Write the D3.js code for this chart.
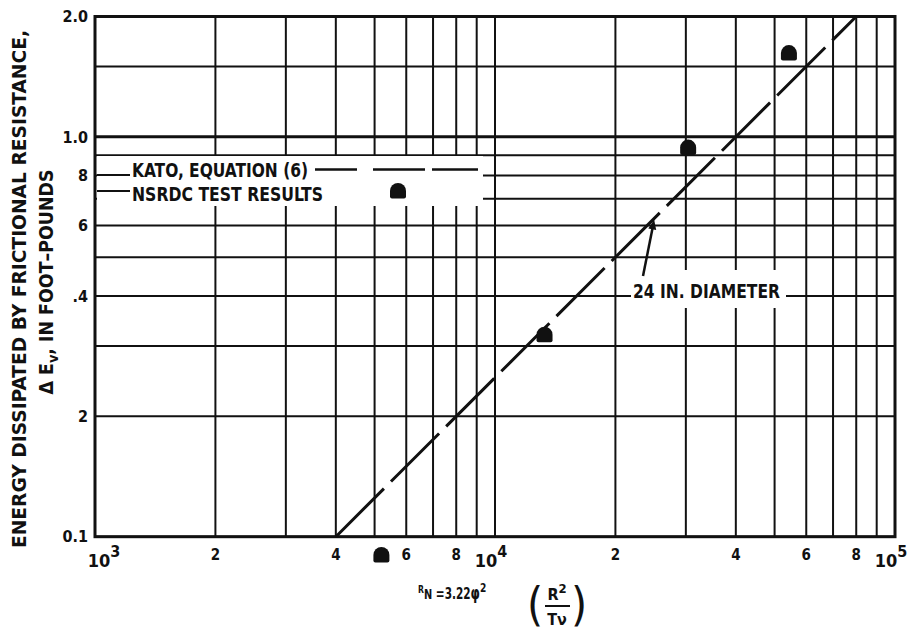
<!DOCTYPE html>
<html><head><meta charset="utf-8">
<script src="https://cdn.jsdelivr.net/npm/d3@7"></script>
<style>
body{margin:0;background:#fff;}
svg text{font-family:"Liberation Sans Narrow","DejaVu Sans Condensed","Arial Narrow","Liberation Sans",sans-serif;font-weight:bold;fill:#111;}
</style></head><body>
<svg id="c" width="912" height="631"></svg>
<script>
// ---- data ----
const xDomain = [1e3, 1e5];
const yDomain = [0.1, 2.0];
const xGridValues = [1000,2000,3000,4000,5000,6000,7000,8000,9000,10000,20000,30000,40000,50000,60000,70000,80000,90000,100000];
const yGridValues = [0.1,0.2,0.3,0.4,0.5,0.6,0.7,0.8,0.9,1.0,1.5,2.0];
const xTickValues = [1e3,2e3,4e3,6e3,8e3,1e4,2e4,4e4,6e4,8e4,1e5];
const xTickLabels = ["10^3","2","4","6","8","10^4","2","4","6","8","10^5"];
const yTickValues = [0.1,0.2,0.4,0.6,0.8,1.0,2.0];
const yTickLabels = ["0.1","2",".4","6","8","1.0","2.0"];
const katoRN = [4000, 80000];
const katoE  = [0.1, 2.0];
const testRN = [5200, 13300, 30400, 54300];
const testE  = [0.09, 0.32, 0.94, 1.62];
const annotRN = 25000;

// ---- layout ----
const L = 95, R = 895, T = 16.5, B = 536.7;
const svg = d3.select("#c");
const x = d3.scaleLog().domain(xDomain).range([L, R]);
const y = d3.scaleLog().domain(yDomain).range([B, T]);

// grid
const g = svg.append("g");
g.selectAll("line.v").data(xGridValues).join("line")
  .attr("x1", d => x(d)).attr("x2", d => x(d)).attr("y1", y(yDomain[0])).attr("y2", y(yDomain[1]))
  .attr("stroke", "#111").attr("stroke-width", 2);
g.selectAll("line.h").data(yGridValues).join("line")
  .attr("y1", d => y(d)).attr("y2", d => y(d)).attr("x1", x(xDomain[0])).attr("x2", x(xDomain[1]))
  .attr("stroke", "#111").attr("stroke-width", d => d === 1.0 ? 3 : 2);
svg.append("rect").attr("x", L).attr("y", T).attr("width", R - L).attr("height", B - T)
  .attr("fill", "none").attr("stroke", "#111").attr("stroke-width", 3);

// y tick labels
svg.selectAll("text.yt").data(yTickValues).join("text")
  .attr("x", 88).attr("y", d => y(d)).attr("dy", "0.36em").attr("text-anchor", "end")
  .attr("font-size", 16).text((d, i) => yTickLabels[i]);

// x tick labels
xTickValues.forEach((v, i) => {
  const lab = xTickLabels[i];
  if (lab.includes("^")) {
    const [base, exp] = lab.split("^");
    const dx = i === 0 ? 9 : -4;
    const t = svg.append("text").attr("x", x(v) + dx).attr("y", 567).attr("text-anchor", "middle").attr("font-size", 18);
    t.append("tspan").text(base);
    t.append("tspan").attr("dy", -10).attr("font-size", 16).text(exp);
  } else {
    svg.append("text").attr("x", x(v)).attr("y", 560).attr("text-anchor", "middle").attr("font-size", 15).text(lab);
  }
});

// y axis title
svg.append("text").attr("transform", "translate(26,289) rotate(-90)")
  .attr("text-anchor", "middle").attr("font-size", 19)
  .attr("textLength", 518).attr("lengthAdjust", "spacingAndGlyphs")
  .text("ENERGY DISSIPATED BY FRICTIONAL RESISTANCE,");
const yt2 = svg.append("text").attr("transform", "translate(53,282) rotate(-90)")
  .attr("text-anchor", "middle").attr("font-size", 19)
  .attr("textLength", 225).attr("lengthAdjust", "spacingAndGlyphs");
yt2.append("tspan").text("\u0394 E");
yt2.append("tspan").attr("dy", 5).attr("font-size", 14).text("v");
yt2.append("tspan").attr("dy", -5).text(", IN FOOT\u2013POUNDS");

// legend box
svg.append("rect").attr("x", 97).attr("y", 156).attr("width", 386).attr("height", 50).attr("fill", "#fff");
svg.append("line").attr("x1", 97).attr("x2", 130).attr("y1", 175).attr("y2", 175).attr("stroke", "#111").attr("stroke-width", 2);
svg.append("line").attr("x1", 97).attr("x2", 130).attr("y1", 191).attr("y2", 191).attr("stroke", "#111").attr("stroke-width", 2);
svg.append("text").attr("x", 132).attr("y", 176.5).attr("font-size", 20)
  .attr("textLength", 176).attr("lengthAdjust", "spacingAndGlyphs").text("KATO, EQUATION (6)");
svg.append("text").attr("x", 132).attr("y", 201).attr("font-size", 20)
  .attr("textLength", 191).attr("lengthAdjust", "spacingAndGlyphs").text("NSRDC TEST RESULTS");
svg.append("line").attr("x1", 315).attr("x2", 478).attr("y1", 169.5).attr("y2", 169.5)
  .attr("stroke", "#111").attr("stroke-width", 2.5).attr("stroke-dasharray", "42,16,52,7,46");

// marker shape
const marker = "M-8,5.5 Q-8,7.5 -6,7.5 L6,7.5 Q8,7.5 8,5.5 L8,0 A8,8 0 0 0 -8,0 Z";
svg.append("path").attr("d", marker).attr("transform", "translate(398,191)").attr("fill", "#111");

// Kato line
const lineGen = d3.line().x(d => x(d[0])).y(d => y(d[1]));
svg.append("path").datum(katoRN.map((v, i) => [v, katoE[i]])).attr("d", lineGen)
  .attr("fill", "none").attr("stroke", "#111").attr("stroke-width", 3)
  .attr("stroke-dasharray", "68,10");

// test points
svg.selectAll("path.pt").data(testRN).join("path")
  .attr("d", marker).attr("fill", "#111")
  .attr("transform", (d, i) => `translate(${x(d)},${y(testE[i])})`);

// annotation
svg.append("rect").attr("x", 631).attr("y", 270).attr("width", 155).attr("height", 38).attr("fill", "#fff");
svg.append("text").attr("x", 633).attr("y", 297.5).attr("font-size", 19)
  .attr("textLength", 147).attr("lengthAdjust", "spacingAndGlyphs").text("24 IN. DIAMETER");
const tipX = x(annotRN), tipY = y(katoE[0] * annotRN / katoRN[0]) + 1;
const tailX = 643, tailY = 276;
svg.append("line").attr("x1", tailX).attr("y1", tailY).attr("x2", tipX - 1.5).attr("y2", tipY + 8)
  .attr("stroke", "#111").attr("stroke-width", 2.5);
const ang = Math.atan2(tipY - tailY, tipX - tailX);
const ah = 10, aw = 4;
const bx = tipX - ah * Math.cos(ang), by = tipY - ah * Math.sin(ang);
svg.append("path").attr("d", `M${tipX},${tipY} L${bx + aw * Math.sin(ang)},${by - aw * Math.cos(ang)} L${bx - aw * Math.sin(ang)},${by + aw * Math.cos(ang)} Z`).attr("fill", "#111");

// x axis title
const xt = svg.append("text").attr("transform", "translate(418,599) scale(0.78,1)").attr("font-size", 15);
xt.append("tspan").attr("font-size", 11).attr("dy", -6).text("R");
xt.append("tspan").attr("font-size", 14).attr("dy", 6).text("N");
xt.append("tspan").text(" =3.22");
xt.append("tspan").attr("font-size", 17).text("\u03C6");
xt.append("tspan").attr("font-size", 13).attr("dy", -7).text("2");
svg.append("text").attr("x", 535).attr("y", 620).attr("text-anchor", "middle").attr("font-size", 46).style("font-weight", "normal").text("(");
svg.append("text").attr("x", 579).attr("y", 620).attr("text-anchor", "middle").attr("font-size", 46).style("font-weight", "normal").text(")");
const fr = svg.append("text").attr("x", 557).attr("y", 600).attr("text-anchor", "middle").attr("font-size", 16);
fr.append("tspan").text("R");
fr.append("tspan").attr("font-size", 13).attr("dy", -7).text("2");
svg.append("line").attr("x1", 545).attr("x2", 570).attr("y1", 606).attr("y2", 606).attr("stroke", "#111").attr("stroke-width", 2);
svg.append("text").attr("x", 557).attr("y", 625).attr("text-anchor", "middle").attr("font-size", 16).text("T\u03BD");
</script>
</body></html>
